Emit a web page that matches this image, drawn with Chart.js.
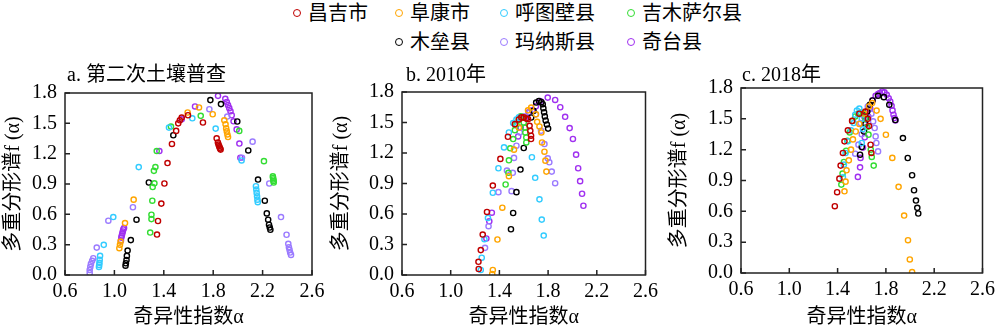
<!DOCTYPE html>
<html>
<head>
<meta charset="utf-8">
<script src="https://cdn.jsdelivr.net/npm/chart.js@4.4.1/dist/chart.umd.min.js"></script>
<style>
body { margin: 0; width: 1000px; height: 331px; background: #fff; position: relative; overflow: hidden;
  font-family: "Liberation Serif", "Noto Sans CJK SC", serif; color: #000; }
canvas { position: absolute; top: 55px; }
.ttl { position: absolute; top: 63px; font-size: 20px; line-height: 22px; white-space: nowrap; }
.lg { position: absolute; font-size: 20px; line-height: 22px; white-space: nowrap; }
.lg i { display: inline-block; width: 6px; height: 6px; border: 1.6px solid; border-radius: 50%; margin-right: 7px; vertical-align: 3px; }
</style>
</head>
<body>
<div id="legend"></div>
<canvas id="ca" width="330" height="276" style="left:0px"></canvas>
<canvas id="cb" width="335" height="276" style="left:328px"></canvas>
<canvas id="cc" width="334" height="276" style="left:666px"></canvas>
<script>
const names = ['昌吉市', '阜康市', '呼图壁县', '吉木萨尔县', '木垒县', '玛纳斯县', '奇台县'];
const colors = ['#C00000', '#FFA500', '#33CCFF', '#33DD33', '#000000', '#9B7BFF', '#A030F0'];
const titles = ['a. 第二次土壤普查', 'b. 2010年', 'c. 2018年'];
const xTicks = [0.6, 1.0, 1.4, 1.8, 2.2, 2.6];
const yTicks = [0, 0.3, 0.6, 0.9, 1.2, 1.5, 1.8];

// a. 第二次土壤普查  [alpha, f(alpha)]
const changjiA = [[1.345,0.40],[1.353,0.534],[1.38,0.706],[1.405,0.905],[1.43,1.107],[1.466,1.296],[1.50,1.425],[1.517,1.50],[1.53,1.53],[1.545,1.557],[1.596,1.58],[1.717,1.508],[1.828,1.352],[1.838,1.31],[1.843,1.29],[1.848,1.275],[1.852,1.26],[1.856,1.25],[1.86,1.24]];
const fukangA = [[1.04,0.265],[1.045,0.298],[1.05,0.33],[1.086,0.514],[1.156,0.745],[1.593,1.607],[1.685,1.657],[1.796,1.59],[1.89,1.53],[1.90,1.49],[1.905,1.45],[1.91,1.42],[1.915,1.39],[1.92,1.365]];
const hutubiA = [[0.875,0.08],[0.877,0.10],[0.879,0.12],[0.881,0.15],[0.884,0.19],[0.914,0.298],[0.991,0.573],[1.197,1.067],[1.442,1.458],[1.631,1.55],[1.82,1.448],[2.03,1.133],[2.146,0.878],[2.149,0.845],[2.152,0.812],[2.155,0.778],[2.158,0.745],[2.161,0.72]];
const jimusaerA = [[1.29,0.42],[1.30,0.553],[1.30,0.596],[1.307,0.735],[1.31,0.87],[1.324,0.907],[1.32,1.03],[1.332,1.067],[1.343,1.226],[1.458,1.468],[1.699,1.574],[2.011,1.425],[2.211,1.126],[2.283,0.975],[2.285,0.96],[2.287,0.945],[2.289,0.93],[2.29,0.915]];
const muleiA = [[1.09,0.092],[1.093,0.116],[1.098,0.149],[1.101,0.189],[1.107,0.242],[1.133,0.345],[1.179,0.547],[1.279,0.915],[1.477,1.382],[1.777,1.73],[1.863,1.69],[1.995,1.518],[2.084,1.232],[2.163,0.944],[2.218,0.735],[2.234,0.609],[2.245,0.547],[2.252,0.497],[2.258,0.47],[2.263,0.447]];
const manasiA = [[0.80,0.02],[0.80,0.05],[0.805,0.08],[0.81,0.11],[0.82,0.14],[0.829,0.166],[0.857,0.271],[0.951,0.537],[1.15,0.67],[1.769,1.64],[1.914,1.567],[2.033,1.16],[2.119,1.319],[2.254,0.905],[2.349,0.573],[2.394,0.398],[2.408,0.308],[2.413,0.275],[2.418,0.249],[2.423,0.222],[2.43,0.199]];
const qitaiA = [[1.053,0.34],[1.056,0.37],[1.06,0.39],[1.064,0.41],[1.068,0.43],[1.072,0.45],[1.078,0.464],[1.364,1.226],[1.545,1.54],[1.653,1.667],[1.839,1.772],[1.898,1.742],[1.91,1.71],[1.92,1.68],[1.93,1.65],[1.94,1.62],[1.95,1.58],[1.965,1.52],[1.99,1.44],[2.012,1.30],[2.02,1.16]];

// b. 2010年
const changjiB = [[1.23,0.059],[1.228,0.13],[1.247,0.245],[1.263,0.398],[1.298,0.62],[1.346,0.88],[1.408,1.142],[1.47,1.36],[1.527,1.484],[1.56,1.53],[1.58,1.55],[1.60,1.55],[1.62,1.54],[1.635,1.533],[1.648,1.467],[1.654,1.418],[1.66,1.37],[1.66,1.337]];
const fukangB = [[1.341,0.01],[1.346,0.049],[1.384,0.349],[1.424,0.662],[1.478,0.972],[1.52,1.233],[1.56,1.45],[1.60,1.55],[1.635,1.62],[1.661,1.647],[1.70,1.58],[1.71,1.507],[1.729,1.461],[1.745,1.402],[1.75,1.304],[1.77,1.213],[1.778,1.125],[1.786,1.017]];
const hutubiB = [[1.247,0.049],[1.255,0.17],[1.277,0.352],[1.306,0.561],[1.346,0.809],[1.392,1.05],[1.438,1.255],[1.478,1.402],[1.513,1.494],[1.54,1.53],[1.56,1.55],[1.667,1.158],[1.694,0.956],[1.729,0.744],[1.748,0.545],[1.764,0.388]];
const jimusaerB = [[1.451,0.89],[1.474,1.005],[1.478,1.128],[1.489,1.246],[1.513,1.337],[1.527,1.425],[1.54,1.48],[1.56,1.53],[1.575,1.56],[1.59,1.55],[1.60,1.50],[1.61,1.45],[1.613,1.402],[1.621,1.353],[1.621,1.304]];
const muleiB = [[1.495,0.45],[1.513,0.61],[1.54,0.815],[1.573,1.037],[1.60,1.249],[1.661,1.549],[1.68,1.614],[1.702,1.696],[1.724,1.712],[1.745,1.70],[1.756,1.68],[1.761,1.64],[1.767,1.60],[1.773,1.56],[1.78,1.52],[1.79,1.48],[1.80,1.44]];
const manasiB = [[1.282,0.267],[1.311,0.48],[1.392,0.815],[1.462,1.027],[1.50,0.825],[1.51,1.005],[1.52,1.152],[1.54,1.272],[1.567,1.402],[1.60,1.56],[1.65,1.60],[1.70,1.58],[1.742,1.419],[1.77,1.288],[1.797,1.148],[1.81,1.109],[1.83,1.017],[1.858,0.903]];
const qitaiB = [[1.293,0.359],[1.317,0.528],[1.338,0.613],[1.554,1.363],[1.575,1.45],[1.61,1.55],[1.64,1.60],[1.67,1.62],[1.70,1.66],[1.734,1.712],[1.797,1.745],[1.858,1.722],[1.90,1.65],[1.94,1.556],[1.977,1.445],[2.004,1.338],[2.03,1.184],[2.047,1.05],[2.063,0.923],[2.079,0.799],[2.09,0.681]];

// c. 2018年
const changjiC = [[1.377,0.65],[1.396,0.786],[1.415,0.918],[1.425,1.045],[1.444,1.168],[1.457,1.281],[1.485,1.388],[1.52,1.48],[1.58,1.55],[1.63,1.57],[1.65,1.50],[1.66,1.43],[1.673,1.248],[1.68,1.168]];
const fukangC = [[1.457,0.795],[1.466,0.889],[1.474,0.999],[1.493,1.096],[1.511,1.20],[1.527,1.30],[1.55,1.377],[1.58,1.45],[1.62,1.55],[1.66,1.62],[1.686,1.653],[1.723,1.58],[1.756,1.50],[1.80,1.345],[1.853,1.12],[1.905,0.838],[1.951,0.559],[1.983,0.319],[1.998,0.132],[2.017,0.009]];
const hutubiC = [[1.444,0.931],[1.452,1.054],[1.466,1.168],[1.485,1.281],[1.511,1.388],[1.533,1.459],[1.546,1.54],[1.56,1.58],[1.58,1.60],[1.60,1.50],[1.61,1.40],[1.60,1.265]];
const jimusaerC = [[1.431,0.86],[1.441,0.967],[1.452,1.08],[1.471,1.19],[1.481,1.287],[1.50,1.368],[1.522,1.478],[1.546,1.523],[1.57,1.55],[1.59,1.56],[1.61,1.555],[1.63,1.50],[1.645,1.42],[1.656,1.346],[1.675,1.20],[1.683,1.129],[1.699,1.045]];
const muleiC = [[1.586,1.151],[1.60,1.226],[1.619,1.377],[1.63,1.45],[1.635,1.507],[1.646,1.572],[1.667,1.637],[1.689,1.679],[1.735,1.724],[1.783,1.711],[1.828,1.637],[1.878,1.488],[1.941,1.313],[1.981,1.119],[2.017,0.951],[2.033,0.805],[2.049,0.705],[2.06,0.634],[2.068,0.579]];
const manasiC = [[1.546,1.161],[1.573,1.249],[1.60,1.35],[1.62,1.45],[1.64,1.55],[1.66,1.60],[1.68,1.55],[1.694,1.475],[1.707,1.411],[1.715,1.329],[1.721,1.265],[1.735,1.183],[1.59,1.459],[1.62,1.52],[1.65,1.62]];
const qitaiC = [[1.568,0.935],[1.586,1.028],[1.59,1.12],[1.61,1.22],[1.625,1.32],[1.64,1.42],[1.655,1.52],[1.67,1.60],[1.69,1.68],[1.715,1.724],[1.735,1.74],[1.75,1.75],[1.77,1.766],[1.788,1.757],[1.807,1.734],[1.823,1.70],[1.836,1.669],[1.847,1.627],[1.855,1.582],[1.863,1.54],[1.871,1.508],[1.879,1.485]];

const panelData = [
  [changjiA, fukangA, hutubiA, jimusaerA, muleiA, manasiA, qitaiA],
  [changjiB, fukangB, hutubiB, jimusaerB, muleiB, manasiB, qitaiB],
  [changjiC, fukangC, hutubiC, jimusaerC, muleiC, manasiC, qitaiC]
];

// layout of the three panels (canvas id, y axis width, padding right/top, x axis height, title left)
const panels = [
  { id: 'ca', yw: 65, pr: 18, pt: 38, xh: 56, tl: 67 },
  { id: 'cb', yw: 74, pr: 13, pt: 37, xh: 56, tl: 406 },
  { id: 'cc', yw: 75, pr: 11, pt: 33, xh: 58, tl: 742 }
];

const legendX = [298, 400, 505, 632, 400, 505, 632];
const legendY = [2, 2, 2, 2, 31, 31, 31];

const FONT = '"Liberation Serif", "Noto Sans CJK SC", serif';
Chart.defaults.font.family = FONT;
Chart.defaults.font.size = 20;
Chart.defaults.color = '#000';

// legend
let lg = document.getElementById('legend');
names.forEach((n, i) => {
  let d = document.createElement('div');
  d.className = 'lg';
  d.style.left = (legendX[i] - 5) + 'px';
  d.style.top = legendY[i] + 'px';
  d.innerHTML = '<i style="border-color:' + colors[i] + '"></i>' + n;
  lg.appendChild(d);
});

// frame + inward ticks
const frame = {
  id: 'frame',
  afterDatasetsDraw(c) {
    const { ctx, chartArea: a, scales } = c;
    ctx.save();
    ctx.strokeStyle = '#222';
    ctx.lineWidth = 1.5;
    ctx.strokeRect(a.left, a.top, a.right - a.left, a.bottom - a.top);
    ctx.beginPath();
    xTicks.forEach(v => {
      let p = scales.x.getPixelForValue(v);
      ctx.moveTo(p, a.bottom);
      ctx.lineTo(p, a.bottom - 5);
    });
    yTicks.forEach(v => {
      let p = scales.y.getPixelForValue(v);
      ctx.moveTo(a.left, p);
      ctx.lineTo(a.left + 5, p);
    });
    ctx.stroke();
    ctx.restore();
  }
};

panels.forEach((p, k) => {
  let t = document.createElement('div');
  t.className = 'ttl';
  t.style.left = p.tl + 'px';
  t.textContent = titles[k];
  document.body.appendChild(t);

  new Chart(document.getElementById(p.id), {
    type: 'scatter',
    data: {
      datasets: panelData[k].map((pts, i) => ({
        label: names[i],
        data: pts.map(q => ({ x: q[0], y: q[1] })),
        borderColor: colors[i],
        backgroundColor: 'rgba(0,0,0,0)',
        pointRadius: 2.6,
        pointBorderWidth: 1.4
      }))
    },
    options: {
      responsive: false,
      animation: false,
      layout: { padding: { left: 0, right: p.pr, top: p.pt, bottom: 0 } },
      plugins: { legend: { display: false }, tooltip: { enabled: false } },
      scales: {
        x: {
          type: 'linear', min: 0.6, max: 2.6,
          afterBuildTicks: s => { s.ticks = xTicks.map(v => ({ value: v })); },
          afterFit: s => { s.height = p.xh; },
          grid: { display: false, drawTicks: false },
          border: { display: false },
          ticks: { padding: 5, maxRotation: 0, autoSkip: false, callback: v => v.toFixed(1) },
          title: { display: true, text: '奇异性指数α', padding: { top: 0, bottom: 1 } }
        },
        y: {
          type: 'linear', min: 0, max: 1.8,
          afterBuildTicks: s => { s.ticks = yTicks.map(v => ({ value: v })); },
          afterFit: s => { s.width = p.yw; },
          grid: { display: false, drawTicks: false },
          border: { display: false },
          ticks: { padding: 8, autoSkip: false, callback: v => v.toFixed(1) },
          title: { display: true, text: '多重分形谱f (α)', padding: { top: 2, bottom: 0 } }
        }
      }
    },
    plugins: [frame]
  });
});
</script>
</body>
</html>
